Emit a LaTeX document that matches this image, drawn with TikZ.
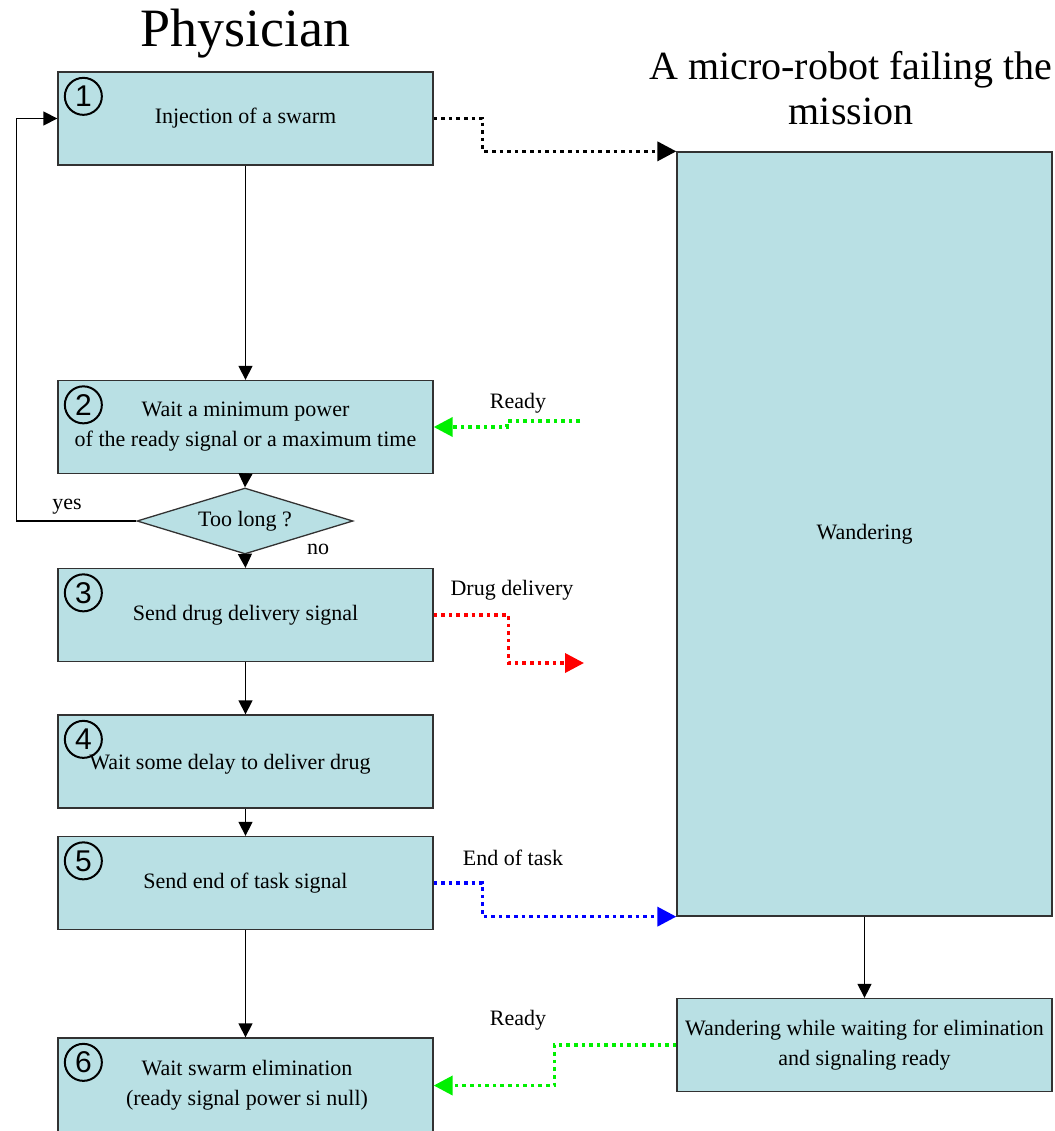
\documentclass[tikz,border=0pt]{standalone}
\usepackage{fontspec}
\setmainfont{Liberation Serif}
\newfontfamily\numfamily{Liberation Sans}
\usetikzlibrary{arrows.meta,shapes.geometric}
\definecolor{boxfill}{RGB}{185,224,228}
\definecolor{boxline}{RGB}{50,50,50}
\definecolor{sgreen}{RGB}{0,240,0}
\newcommand\bodyfont{\fontsize{22}{30}\selectfont}
\begin{document}
\begin{tikzpicture}[x=1pt,y=-1pt,
  box/.style={draw=boxline, line width=1.3pt, fill=boxfill, rectangle,
    minimum width=375pt, minimum height=93pt, inner sep=0pt, align=center, font=\bodyfont},
  num/.style={circle, draw=black, line width=2pt, minimum size=37pt, inner sep=0pt,
    font=\numfamily\fontsize{30}{30}\selectfont},
  txt/.style={font=\bodyfont, align=center, inner sep=0pt},
  flow/.style={line width=1.3pt, -{Triangle[length=14pt,width=14pt]}},
  sig/.style={line width=3.6pt, dash pattern=on 3.6pt off 4pt, -{Triangle[length=19pt,width=19pt]}}
]
\useasboundingbox (0,0) rectangle (1054,1131);
\clip (0,0) rectangle (1054,1131);

% titles
\node[font=\fontsize{54}{60}\selectfont, anchor=base, inner sep=0pt] (tphys) at (245,47) {Physician};
\node[font=\fontsize{40}{45}\selectfont, align=center, inner sep=0pt] (trobot) at (851,88)
  {A micro-robot failing the\\mission};

% physician steps
\node[box] (b1) at (245.5,118.5) {Injection of a swarm};
\node[box] (b2) at (245.5,427) {Wait a minimum power\\of the ready signal or a maximum time};
\node[diamond, aspect=3.27, draw=boxline, line width=1.3pt, fill=boxfill, inner sep=0pt,
  minimum width=216pt, minimum height=66pt, font=\bodyfont] (dia) at (245,521) {Too long ?};
\node[box] (b3) at (245.5,615) {Send drug delivery signal};
\node[box] (b4) at (245.5,761.5) {};
\node[txt] (t4) at (230,764) {Wait some delay to deliver drug};
\node[box] (b5) at (245.5,883) {Send end of task signal};
\node[box, minimum height=95pt] (b6) at (245.5,1085.5) {};
\node[txt] (t6) at (247,1085) {Wait swarm elimination\\(ready signal power si null)};

% step numbers
\node[num] (c1) at ([shift={(26,25)}]b1.north west) {1};
\node[num] (c2) at ([shift={(26,25)}]b2.north west) {2};
\node[num] (c3) at ([shift={(26,25)}]b3.north west) {3};
\node[num] (c4) at ([shift={(26,25)}]b4.north west) {4};
\node[num] (c5) at ([shift={(26,25)}]b5.north west) {5};
\node[num] (c6) at ([shift={(26,25)}]b6.north west) {6};

% micro-robot states
\node[box, minimum height=764pt] (wander) at (864.5,534) {Wandering};
\node[box] (b7) at (864.5,1045) {Wandering while waiting for elimination\\and signaling ready};

% control flow
\draw[flow] (b1.south) -- (b2.north);
\draw[flow] (b2.south) -- (dia.north);
\draw[flow] (dia.south) -- (b3.north);
\draw[flow] (b3.south) -- (b4.north);
\draw[flow] (b4.south) -- (b5.north);
\draw[flow] (b5.south) -- (b6.north);
\draw[flow] (dia.west) -- ++(-120,0) |- (b1.west);
\draw[flow] (wander.south) -- (b7.north);
\node[txt] (lyes) at (67,507) {yes};
\node[txt] (lno) at (318,549) {no};

% signals
\coordinate (rin) at (580,421);
\coordinate (rout) at (584,663);
\draw[sig] (b1.east) -- ++(49,0) |- (wander.north west);
\draw[sig, color=sgreen] (rin) -- ++(-73,0) |- (b2.east);
\draw[sig, color=red] (b3.east) -- ++(75,0) |- (rout);
\draw[sig, color=blue] (b5.east) -- ++(49,0) |- (wander.south west);
\draw[sig, color=sgreen] (b7.west) -- ++(-122,0) |- (b6.east);
\node[txt] (lr1) at (518,403) {Ready};
\node[txt] (ldd) at (512,590) {Drug delivery};
\node[txt] (let) at (513,858) {End of task};
\node[txt] (lr2) at (518,1020) {Ready};
\end{tikzpicture}
\end{document}
